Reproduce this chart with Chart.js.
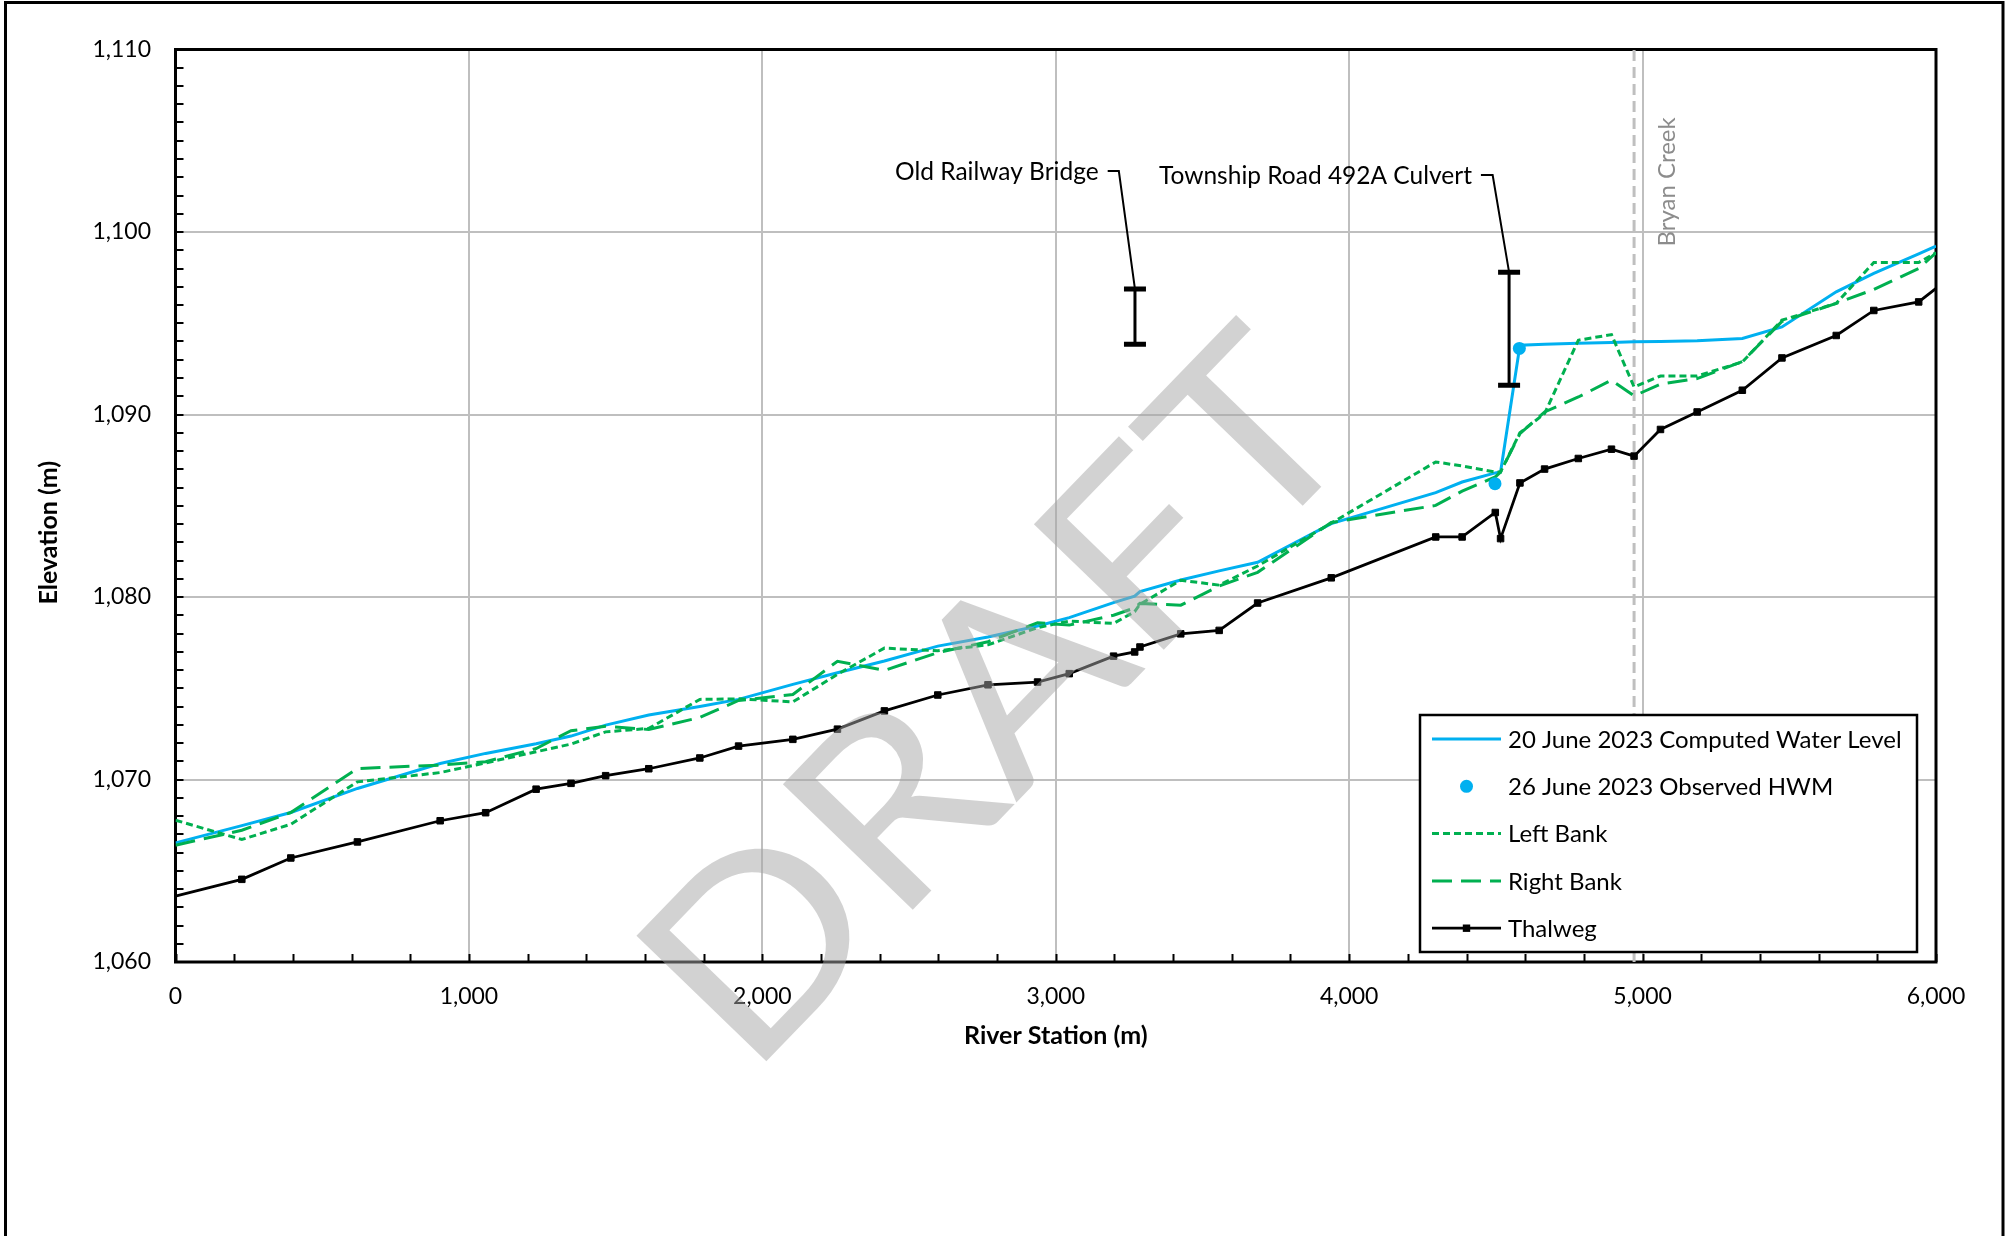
<!DOCTYPE html>
<html><head><meta charset="utf-8">
<script src="https://cdn.jsdelivr.net/npm/chart.js@4.4.1/dist/chart.umd.min.js"></script>
<style>html,body{margin:0;padding:0;background:#fff;overflow:hidden}canvas{display:block}</style>
</head><body>
<canvas id="c" width="2007" height="1236"></canvas>
<script>
// ---------------- DATA ----------------
const stations   = [0,226,393,620,902,1057,1229,1348,1466,1613,1787,1919,2104,2256,2416,2598,2769,2938,3046,3197,3269,3287,3426,3557,3688,3939,4295,4385,4498,4516,4582,4666,4781,4894,4971,5061,5186,5340,5475,5660,5788,5941,6000];
const waterLevel = [1066.53,1067.47,1068.19,1069.51,1070.88,1071.43,1071.96,1072.38,1072.98,1073.53,1074.00,1074.39,1075.21,1075.85,1076.49,1077.31,1077.81,1078.41,1078.87,1079.69,1080.05,1080.30,1080.93,1081.43,1081.90,1084.02,1085.72,1086.30,1086.80,1086.85,1093.80,1093.85,1093.90,1093.95,1093.98,1094.00,1094.04,1094.17,1094.80,1096.72,1097.73,1098.80,1099.23];
const leftBank   = [1067.77,1066.71,1067.55,1069.87,1070.38,1070.91,1071.52,1071.94,1072.61,1072.80,1074.39,1074.42,1074.25,1075.76,1077.20,1077.05,1077.38,1078.32,1078.68,1078.55,1079.20,1079.60,1080.92,1080.65,1081.70,1084.05,1087.40,1087.18,1086.85,1086.85,1089.00,1090.05,1094.07,1094.38,1091.51,1092.11,1092.11,1092.88,1095.17,1096.09,1098.33,1098.33,1098.86];
const rightBank  = [1066.40,1067.22,1068.19,1070.60,1070.79,1070.97,1071.70,1072.67,1072.92,1072.74,1073.40,1074.33,1074.66,1076.48,1075.98,1076.95,1077.55,1078.59,1078.46,1079.00,1079.40,1079.65,1079.55,1080.60,1081.35,1084.08,1085.02,1085.80,1086.58,1086.85,1088.95,1090.14,1090.96,1091.88,1091.02,1091.66,1091.97,1092.90,1095.10,1096.09,1096.85,1098.00,1098.86];
const thalweg    = [1063.61,1064.53,1065.70,1066.58,1067.74,1068.18,1069.47,1069.79,1070.21,1070.59,1071.18,1071.83,1072.20,1072.76,1073.76,1074.63,1075.19,1075.34,1075.80,1076.76,1076.99,1077.26,1077.98,1078.17,1079.67,1081.05,1083.29,1083.29,1084.63,1083.20,1086.25,1087.01,1087.59,1088.10,1087.72,1089.18,1090.14,1091.33,1093.10,1094.33,1095.70,1096.17,1096.91];

const hwmStations = [4497, 4580];
const hwmElev     = [1086.21, 1093.62];

const structureNames    = ['Old Railway Bridge', 'Township Road 492A Culvert'];
const structureStations = [3270, 4545];
const structureLow      = [1093.85, 1091.60];
const structureHigh     = [1096.87, 1097.80];
const labelStubStart    = [3177, 4449];   // station where the leader stub starts (label end)
const labelStubEnd      = [3215, 4489];
const labelElev         = [1103.34, 1103.12];

const tributaryName    = 'Bryan Creek';
const tributaryStation = 4971;
const tributaryLabelElev = 1099.2;

const seriesNames = ['20 June 2023 Computed Water Level', '26 June 2023 Observed HWM', 'Left Bank', 'Right Bank', 'Thalweg'];

const xTickValues = [0,1000,2000,3000,4000,5000,6000];
const xTickLabels = ['0','1,000','2,000','3,000','4,000','5,000','6,000'];
const yTickValues = [1060,1070,1080,1090,1100,1110];
const yTickLabels = ['1,060','1,070','1,080','1,090','1,100','1,110'];
const xMinorStep = 200, yMinorStep = 1;
const xTitle = 'River Station (m)', yTitle = 'Elevation (m)';
const watermark = 'DRAFT';

// ---------------- STYLE ----------------
const FONT = 'Lato, "Open Sans", sans-serif';
const BLUE = '#00b0f0', GREEN = '#00b050', GRID = '#bfbfbf';
Chart.defaults.font.family = FONT;
Chart.defaults.color = '#000';

const pts = (xs, ys) => xs.map((x, i) => ({x: x, y: ys[i]}));
const lastIdx = stations.length - 1;

const datasets = [
  {label: seriesNames[0], data: pts(stations, waterLevel), borderColor: BLUE, borderWidth: 3, pointRadius: 0, order: 6, _leg: 'line'},
  {label: seriesNames[1], data: pts(hwmStations, hwmElev), showLine: false, pointStyle: 'circle', pointRadius: 6.5, pointBorderWidth: 0, backgroundColor: BLUE, borderColor: BLUE, order: 2, _leg: 'dot'},
  {label: seriesNames[2], data: pts(stations, leftBank), borderColor: GREEN, borderWidth: 3, borderDash: [7, 4], pointRadius: 0, order: 5, _leg: 'line'},
  {label: seriesNames[3], data: pts(stations, rightBank), borderColor: GREEN, borderWidth: 3, borderDash: [20, 9], pointRadius: 0, order: 4, _leg: 'line'},
  {label: seriesNames[4], data: pts(stations, thalweg), borderColor: '#000', borderWidth: 2.75, pointStyle: 'rect',
   pointRadius: c => (c.dataIndex === 0 || c.dataIndex === lastIdx) ? 0 : 4.6, pointBackgroundColor: '#000', pointBorderColor: '#000', pointBorderWidth: 1, order: 3, _leg: 'marker'},
  {label: '_trib', data: [{x: tributaryStation, y: 1060}, {x: tributaryStation, y: 1110}], borderColor: GRID, borderWidth: 3, borderDash: [11, 6], pointRadius: 0, order: 7}
];
structureStations.forEach((s, i) => {
  datasets.push({label: '_bar' + i, data: [{x: s, y: structureLow[i]}, {x: s, y: structureHigh[i]}], borderColor: '#000', borderWidth: 3,
    pointStyle: 'line', pointRadius: 11, pointBorderWidth: 5, pointBorderColor: '#000', order: 1});
  datasets.push({label: '_lead' + i, data: [{x: labelStubStart[i], y: labelElev[i]}, {x: labelStubEnd[i], y: labelElev[i]}, {x: s, y: structureHigh[i]}],
    borderColor: '#000', borderWidth: 2, pointRadius: 0, order: 1});
});

const deco = {
  id: 'deco',
  beforeDraw(chart) {
    const ctx = chart.ctx;
    ctx.save();
    ctx.fillStyle = '#fff';
    ctx.fillRect(0, 0, chart.width, chart.height);
    ctx.strokeStyle = '#000';
    ctx.lineWidth = 3;
    ctx.strokeRect(5.5, 2.5, 1997.5, 1250);
    ctx.restore();
  },
  beforeDatasetsDraw(chart) {
    const ctx = chart.ctx, a = chart.chartArea, xs = chart.scales.x, ys = chart.scales.y;
    ctx.save();
    ctx.strokeStyle = '#000';
    ctx.lineWidth = 2;
    ctx.beginPath();
    for (let v = xs.min; v <= xs.max + 1e-6; v += xMinorStep) {
      const p = Math.round(xs.getPixelForValue(v)) + 0.5;
      ctx.moveTo(p, a.bottom); ctx.lineTo(p, a.bottom - 8);
    }
    for (let v = ys.min; v <= ys.max + 1e-6; v += yMinorStep) {
      const p = Math.round(ys.getPixelForValue(v));
      ctx.moveTo(a.left, p); ctx.lineTo(a.left + 8, p);
    }
    ctx.stroke();
    ctx.lineWidth = 3;
    ctx.strokeRect(a.left, a.top, a.right - a.left, a.bottom - a.top);
    ctx.restore();
  },
  afterDatasetsDraw(chart) {
    const ctx = chart.ctx, a = chart.chartArea, xs = chart.scales.x, ys = chart.scales.y;
    ctx.save();
    // structure labels
    ctx.font = '24.5px ' + FONT;
    ctx.fillStyle = '#000';
    ctx.textAlign = 'right';
    ctx.textBaseline = 'middle';
    structureNames.forEach((n, i) => {
      ctx.fillText(n, xs.getPixelForValue(labelStubStart[i]) - 9, ys.getPixelForValue(labelElev[i]) + 1);
    });
    // tributary label
    ctx.save();
    ctx.translate(xs.getPixelForValue(tributaryStation) + 33, ys.getPixelForValue(tributaryLabelElev));
    ctx.rotate(-Math.PI / 2);
    ctx.font = '24px ' + FONT;
    ctx.fillStyle = '#8c8c8c';
    ctx.textAlign = 'left';
    ctx.textBaseline = 'middle';
    ctx.fillText(tributaryName, 0, 0);
    ctx.restore();
    // axis titles
    ctx.font = 'bold 25px ' + FONT;
    ctx.fillStyle = '#000';
    ctx.textAlign = 'center';
    ctx.textBaseline = 'middle';
    ctx.fillText(xTitle, (a.left + a.right) / 2, a.bottom + 74);
    ctx.save();
    ctx.translate(49, (a.top + a.bottom) / 2 + 27);
    ctx.rotate(-Math.PI / 2);
    ctx.fillText(yTitle, 0, 0);
    ctx.restore();
    // legend
    const L = {x: 1420, y: 715, w: 497, h: 237};
    ctx.fillStyle = '#fff';
    ctx.fillRect(L.x, L.y, L.w, L.h);
    ctx.strokeStyle = '#000';
    ctx.lineWidth = 2.5;
    ctx.strokeRect(L.x, L.y, L.w, L.h);
    const legSets = chart.data.datasets.filter(d => d._leg);
    legSets.forEach((d, i) => {
      const cy = L.y + 24 + i * 47.3;
      const x0 = L.x + 12, x1 = L.x + 81, xm = (x0 + x1) / 2;
      ctx.save();
      if (d._leg === 'dot') {
        ctx.fillStyle = d.backgroundColor;
        ctx.beginPath(); ctx.arc(xm, cy, 6.5, 0, Math.PI * 2); ctx.fill();
      } else {
        ctx.strokeStyle = d.borderColor;
        ctx.lineWidth = d.borderWidth;
        ctx.setLineDash(d.borderDash || []);
        ctx.beginPath(); ctx.moveTo(x0, cy); ctx.lineTo(x1, cy); ctx.stroke();
        if (d._leg === 'marker') {
          ctx.fillStyle = '#000';
          ctx.fillRect(xm - 3.7, cy - 3.7, 7.4, 7.4);
        }
      }
      ctx.restore();
      ctx.font = '24px ' + FONT;
      ctx.fillStyle = '#000';
      ctx.textAlign = 'left';
      ctx.textBaseline = 'middle';
      ctx.fillText(d.label, L.x + 88, cy + 1);
    });
    ctx.restore();
  },
  afterDraw(chart) {
    const ctx = chart.ctx;
    ctx.save();
    ctx.translate(994, 696);
    ctx.rotate(-46 * Math.PI / 180);
    ctx.scale(1.1, 1);
    ctx.font = '252px ' + FONT;
    ctx.fillStyle = 'rgba(166,166,166,0.5)';
    ctx.textAlign = 'center';
    ctx.textBaseline = 'alphabetic';
    ctx.fillText(watermark, 0, 90);
    ctx.restore();
  }
};

new Chart(document.getElementById('c'), {
  type: 'line',
  data: {datasets: datasets},
  options: {
    responsive: false,
    animation: false,
    devicePixelRatio: 1,
    layout: {padding: {left: 0, top: 49.5, right: 71, bottom: 174}},
    plugins: {legend: {display: false}, tooltip: {enabled: false}, title: {display: false}},
    elements: {line: {tension: 0}},
    scales: {
      x: {
        type: 'linear', min: 0, max: 6000,
        afterFit: s => { s.height = 100; },
        grid: {color: GRID, lineWidth: 2, drawTicks: false},
        border: {display: false},
        ticks: {stepSize: 1000, padding: 21, maxRotation: 0, font: {size: 23},
          callback: v => { const i = xTickValues.indexOf(v); return i < 0 ? '' : xTickLabels[i]; }}
      },
      y: {
        type: 'linear', min: 1060, max: 1110,
        afterFit: s => { s.width = 175.5; },
        grid: {color: GRID, lineWidth: 2, drawTicks: false},
        border: {display: false},
        ticks: {stepSize: 10, padding: 24.5, font: {size: 23},
          callback: v => { const i = yTickValues.indexOf(v); return i < 0 ? '' : yTickLabels[i]; }}
      }
    }
  },
  plugins: [deco]
});
</script>
</body></html>
